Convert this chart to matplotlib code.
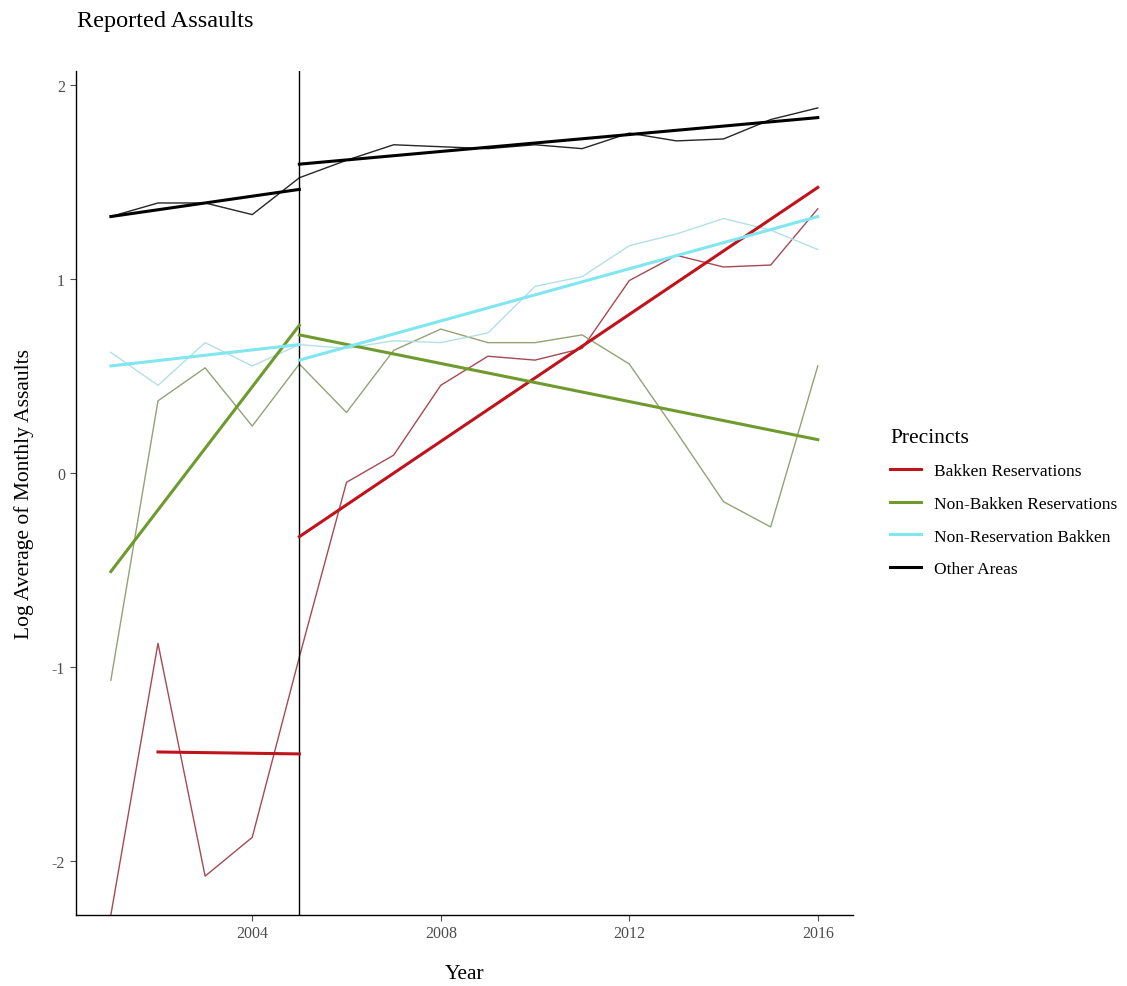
#! /usr/bin/env python3

import numpy as np
import matplotlib.pyplot as plt
from matplotlib.lines import Line2D

plt.rcParams["font.family"] = ["Liberation Serif", "DejaVu Serif"]
plt.rcParams["axes.unicode_minus"] = False

years = [2001, 2002, 2003, 2004, 2005, 2006, 2007, 2008,
         2009, 2010, 2011, 2012, 2013, 2014, 2015, 2016]

# yearly log averages (2001 Bakken Reservations had zero -> -Inf)
bakken_res = [float("-inf"), -0.88, -2.08, -1.88, -0.95, -0.05, 0.09, 0.45,
              0.60, 0.58, 0.64, 0.99, 1.12, 1.06, 1.07, 1.36]
nonbakken_res = [-1.07, 0.37, 0.54, 0.24, 0.56, 0.31, 0.63, 0.74,
                 0.67, 0.67, 0.71, 0.56, 0.21, -0.15, -0.28, 0.55]
nonres_bakken = [0.62, 0.45, 0.67, 0.55, 0.66, 0.64, 0.68, 0.67,
                 0.72, 0.96, 1.01, 1.17, 1.23, 1.31, 1.25, 1.15]
other_areas = [1.32, 1.39, 1.39, 1.33, 1.52, 1.61, 1.69, 1.68,
               1.67, 1.69, 1.67, 1.75, 1.71, 1.72, 1.82, 1.88]

# fitted trend lines before / after 2005 (start and end values)
fit_pre_years = [2001, 2005]
fit_pre_years_bakken = [2002, 2005]
fit_post_years = [2005, 2016]

bakken_res_fit_pre = [-1.44, -1.45]
bakken_res_fit_post = [-0.33, 1.47]
nonbakken_res_fit_pre = [-0.51, 0.76]
nonbakken_res_fit_post = [0.71, 0.17]
nonres_bakken_fit_pre = [0.55, 0.66]
nonres_bakken_fit_post = [0.58, 1.32]
other_areas_fit_pre = [1.32, 1.46]
other_areas_fit_post = [1.59, 1.83]

labels = ["Bakken Reservations", "Non-Bakken Reservations",
          "Non-Reservation Bakken", "Other Areas"]
fit_colors = ["#C0141C", "#6E9A2E", "#80E6EF", "#000000"]
raw_colors = ["#A54A54", "#94A276", "#B3E0E6", "#262626"]

ylo, yhi = -2.28, 2.07

fig = plt.figure(figsize=(11.27, 9.87), dpi=100)
ax = fig.add_axes([0.067, 0.072, 0.69, 0.855])

raw = [bakken_res, nonbakken_res, nonres_bakken, other_areas]
for vals, c in zip(raw, raw_colors):
    v = np.maximum(np.array(vals), ylo)  # -Inf drawn at panel edge
    ax.plot(years, v, color=c, lw=1.0, zorder=2)

ax.axvline(2005, color="black", lw=1.0, zorder=3)

pre = [(fit_pre_years_bakken, bakken_res_fit_pre),
       (fit_pre_years, nonbakken_res_fit_pre),
       (fit_pre_years, nonres_bakken_fit_pre),
       (fit_pre_years, other_areas_fit_pre)]
post = [bakken_res_fit_post, nonbakken_res_fit_post,
        nonres_bakken_fit_post, other_areas_fit_post]
for (px, py), qy, c in zip(pre, post, fit_colors):
    ax.plot(px, py, color=c, lw=2.2, zorder=4)
    ax.plot(fit_post_years, qy, color=c, lw=2.2, zorder=4)

ax.set_xlim(2000.25, 2016.75)
ax.set_ylim(ylo, yhi)
ax.set_xticks([2004, 2008, 2012, 2016])
ax.set_yticks([-2, -1, 0, 1, 2])
ax.tick_params(colors="#4d4d4d", labelsize=11.5, length=4, width=0.8)
ax.spines["top"].set_visible(False)
ax.spines["right"].set_visible(False)
for s in ["left", "bottom"]:
    ax.spines[s].set_color("black")
    ax.spines[s].set_linewidth(1.0)

ax.set_xlabel("Year", fontsize=15.5, labelpad=16)
ax.set_ylabel("Log Average of Monthly Assaults", fontsize=15.5, labelpad=13)
fig.text(0.068, 0.978, "Reported Assaults", fontsize=17.5, va="center", ha="left")

handles = [Line2D([0], [0], color=c, lw=2.2) for c in fit_colors]
leg = fig.legend(handles, labels, title="Precincts", loc="center left",
                 bbox_to_anchor=(0.776, 0.49), frameon=False, fontsize=12.5,
                 title_fontsize=15.5, handlelength=1.8, handletextpad=0.7,
                 labelspacing=0.95)
leg._legend_box.align = "left"

fig.savefig("out.png", dpi=100)
